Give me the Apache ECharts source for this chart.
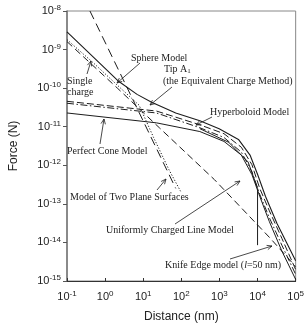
<!DOCTYPE html>
<html><head><meta charset="utf-8">
<script src="https://cdn.jsdelivr.net/npm/echarts@6/dist/echarts.min.js"></script>
<style>html,body{margin:0;padding:0;background:#fff}#c{width:307px;height:328px}</style>
</head><body><div id="c"></div>
<script>
// tick exponents (labels are 10^n)
const xTickExps = [-1, 0, 1, 2, 3, 4, 5];
const yTickExps = [-15, -14, -13, -12, -11, -10, -9, -8];

// curves: [distance (nm), force (N)]
const sphereModel = [[0.1,2.88e-9],[0.5,6.3e-10],[2.16,1.56e-10],[6.9,6.9e-11],[16.6,4.3e-11],[71.3,2.27e-11],[306,1.42e-11],[982,8.9e-12],[3155,4.68e-12],[6350,1.84e-12],[10100,5.7e-13],[16100,1.58e-13],[32400,3.08e-14],[1e5,3.35e-15]];
const singleCharge = [[0.1,1.81e-9],[0.5,4.45e-10],[2.16,1.16e-10],[7.8,3.61e-11],[18.7,5.26e-12],[47.4,7.65e-13],[95.5,2.12e-13]];
const twoPlanes = [[0.4,1e-8],[5,5.8e-11],[71.3,2.52e-13]];
const chargedLine = [[0.1,1.61e-9],[2.16,9.75e-11],[26.5,9.4e-12],[735,4.27e-13],[21600,1.28e-14],[1e5,2.36e-15]];
const hyperboloidA = [[0.1,4.56e-11],[22.2,2.55e-11],[306,1.12e-11],[1315,6.6e-12],[3760,2.93e-12],[7140,1.03e-12],[11400,2.52e-13],[20400,6.6e-14],[43400,1.28e-14],[1e5,1.98e-15]];
const hyperboloidB = [[0.1,4.06e-11],[22.2,2.27e-11],[306,9.4e-12],[1315,5.26e-12],[3760,2.19e-12],[7140,6.8e-13],[11400,1.78e-13],[20400,4.38e-14],[43400,8.5e-15],[1e5,1.48e-15]];
const perfectCone = [[0.1,2.27e-11],[22.2,1.26e-11],[306,7.5e-12],[1315,4.16e-12],[3760,1.84e-12],[7140,5.7e-13],[11400,1.58e-13],[20400,3.47e-14],[43400,6.0e-15],[1e5,1.1e-15]];
const knifeEdge = [[306,8.9e-12],[1760,3.93e-12],[5650,1.22e-12],[1e4,2.52e-13],[1e4,8.5e-15]];

const INK = '#1c1c1c';
function ln(name, data, type, w) {
  return { name, type: 'line', data, symbol: 'none', silent: true, animation: false,
    lineStyle: { color: INK, width: w || 1, type } };
}

// annotations (pixel positions)
const SERIF = '10px "Liberation Serif", "Times New Roman", serif';
const labels = [
  { x: 131, y: 58, t: 'Sphere Model' },
  { x: 164, y: 69, t: '{n|Tip A}{s|1}' },
  { x: 163, y: 81, t: '(the Equivalent Charge Method)' },
  { x: 210, y: 112, t: 'Hyperboloid Model' },
  { x: 67, y: 81, t: 'Single' },
  { x: 67, y: 92, t: 'charge' },
  { x: 67, y: 151, t: 'Perfect Cone Model' },
  { x: 70, y: 197, t: 'Model of Two Plane Surfaces' },
  { x: 106, y: 230, t: 'Uniformly Charged Line Model' },
  { x: 165, y: 265, t: '{n|Knife Edge model (}{i|l}{n|=50 nm)}' }
];
const arrows = [
  [140,63,117,83],[172,87,150,105],[212,117,196,125],[87,74,91,61],
  [100,144,104,119],[157,190,166,179],[175,224,240,181],[230,259,272,246]
];

const graphic = [];
labels.forEach(l => graphic.push({ type: 'text', silent: true, z: 100,
  style: { x: l.x, y: l.y, text: l.t, font: SERIF, fill: INK, verticalAlign: 'middle', align: 'left',
    rich: { n: { font: SERIF, fill: INK }, i: { font: 'italic ' + SERIF, fill: INK },
            s: { fontFamily: 'Liberation Serif', fontSize: 7, fill: INK, padding: [5,0,0,0] } } } }));
arrows.forEach(a => {
  const [x1,y1,x2,y2] = a;
  const dx = x2-x1, dy = y2-y1, L = Math.hypot(dx,dy), ux = dx/L, uy = dy/L;
  const hl = 5, hw = 2.2;
  graphic.push({ type: 'line', silent: true, z: 100, shape: { x1, y1, x2, y2 }, style: { stroke: INK, lineWidth: 0.8 } });
  graphic.push({ type: 'polyline', silent: true, z: 100,
    shape: { points: [[x2 - hl*ux + hw*uy, y2 - hl*uy - hw*ux], [x2, y2], [x2 - hl*ux - hw*uy, y2 - hl*uy + hw*ux]] },
    style: { stroke: INK, lineWidth: 0.8, fill: 'none' } });
});

function expLabel(v) {
  const e = Math.round(Math.log10(v));
  return '{b|10}{s|' + e + '}';
}
const tickRich = {
  b: { fontFamily: 'Liberation Sans', fontSize: 11, color: '#222' },
  s: { fontFamily: 'Liberation Sans', fontSize: 8, color: '#222', verticalAlign: 'top', padding: [0,0,6,0] }
};

const chart = echarts.init(document.getElementById('c'), null, { renderer: 'canvas' });
chart.setOption({
  animation: false,
  grid: { left: 62, top: 11, right: 8, bottom: 41, show: true, borderColor: '#888', borderWidth: 1 },
  xAxis: {
    type: 'log', logBase: 10, min: Math.pow(10, xTickExps[0]), max: Math.pow(10, xTickExps[xTickExps.length-1]), interval: 1,
    name: 'Distance (nm)', nameLocation: 'middle', nameGap: 30,
    nameTextStyle: { fontFamily: 'Liberation Sans', fontSize: 12, color: '#222' },
    axisLine: { lineStyle: { color: '#333', width: 1 } },
    axisTick: { inside: true, length: 3, lineStyle: { color: '#333' } },
    minorTick: { show: false }, splitLine: { show: false },
    axisLabel: { formatter: expLabel, rich: tickRich, margin: 9 }
  },
  yAxis: {
    type: 'log', logBase: 10, min: Math.pow(10, yTickExps[0]), max: Math.pow(10, yTickExps[yTickExps.length-1]), interval: 1,
    name: 'Force (N)', nameLocation: 'middle', nameGap: 47, nameRotate: 90,
    nameTextStyle: { fontFamily: 'Liberation Sans', fontSize: 12, color: '#222' },
    axisLine: { lineStyle: { color: '#777', width: 1.5 } },
    axisTick: { inside: false, length: 4, lineStyle: { color: '#555' } },
    minorTick: { show: false }, splitLine: { show: false },
    axisLabel: { formatter: expLabel, rich: tickRich, margin: 6 }
  },
  series: [
    ln('Sphere Model', sphereModel, 'solid', 1.1),
    ln('Single charge', singleCharge, [1.2, 1.8]),
    ln('Two Plane Surfaces', twoPlanes, [9, 5]),
    ln('Uniformly Charged Line', chargedLine, [7, 4]),
    ln('Hyperboloid A', hyperboloidA, [7, 3]),
    ln('Hyperboloid B', hyperboloidB, [7, 2.5, 1.5, 2.5]),
    ln('Perfect Cone', perfectCone, 'solid', 1),
    ln('Knife Edge', knifeEdge, 'solid', 1)
  ],
  graphic
});
</script></body></html>
